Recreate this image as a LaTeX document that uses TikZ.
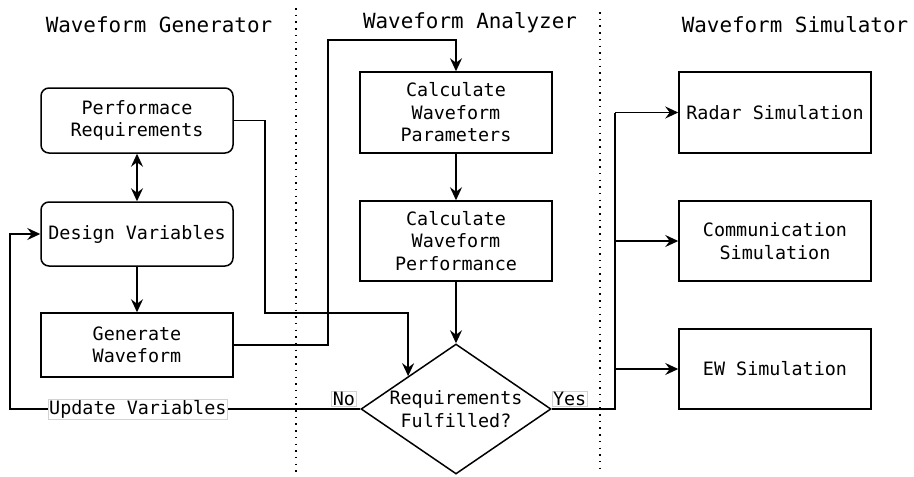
\documentclass[tikz,border=0pt]{standalone}
\usepackage{fontspec}
\setmainfont{DejaVu Sans Mono}
\usetikzlibrary{arrows.meta,shapes.geometric,calc}
\newcommand\mybx{\fontsize{18.4}{22.5}\selectfont}
\newcommand\myttl{\fontsize{20.9}{25}\selectfont}
\begin{document}
\begin{tikzpicture}[x=1pt,y=-1pt,
  base/.style={draw, line width=1.5pt, minimum width=192pt, align=center, inner sep=0pt, font=\mybx},
  rbox/.style={base, rounded corners=8pt, minimum height=65pt},
  sbox/.style={base, minimum height=81pt},
  gbox/.style={base, minimum height=64pt},
  decbox/.style={diamond, draw, line width=1.5pt, aspect=1.46, inner sep=0pt, minimum width=190pt, minimum height=130pt, align=center, font=\mybx},
  tip/.tip={Stealth[length=13pt,width=12pt,inset=4.5pt]},
  arr/.style={line width=1.5pt, -tip},
  dbl/.style={line width=1.5pt, tip-tip},
  lnk/.style={line width=1.5pt},
  lbl/.style={draw=gray!35, line width=0.6pt, fill=white, inner sep=1pt, font=\mybx},
  ttl/.style={font=\myttl, anchor=base},
  sep/.style={line width=1.5pt, dash pattern=on 1.5pt off 5.2pt}
]
\useasboundingbox (0,0) rectangle (914,477);

% titles
\node[ttl] (t1) at (159,32) {Waveform Generator};
\node[ttl] (t2) at (470,28) {Waveform Analyzer};
\node[ttl] (t3) at (795,32) {Waveform Simulator};

% separators
\draw[sep] (296,8) -- (296,472);
\draw[sep] (600,12) -- (600,472);

% nodes
\node[rbox] (pr) at (137,120.5) {Performace\\Requirements};
\node[rbox, minimum height=64pt] (dv) at (137,234) {Design Variables};
\node[gbox] (gw) at (137,345) {Generate\\Waveform};
\node[sbox] (cp) at (456,112.5) {Calculate\\Waveform\\Parameters};
\node[sbox, minimum height=80pt] (cf) at (456,241) {Calculate\\Waveform\\Performance};
\node[decbox] (dec) at (456,409) {Requirements\\Fulfilled?};
\node[sbox] (rs) at (775,112.5) {Radar Simulation};
\node[sbox, minimum height=80pt] (cs) at (775,241) {Communication\\Simulation};
\node[sbox, minimum height=80pt] (ew) at (775,369) {EW Simulation};

% helper coordinates
\coordinate (w1) at (328,40);
\coordinate (p1) at (265,313);
\coordinate (dm) at ($(dec.west)!0.5!(dec.north)$);
\coordinate (u1) at (10,409);
\coordinate (y1) at (615,112.5);
\coordinate (y2) at (615,241);
\coordinate (y3) at (615,369);

% connectors
\draw[dbl] (pr.south) -- (dv.north);
\draw[arr] (dv.south) -- (gw.north);
\draw[arr] (gw.east) -| (w1) -| (cp.north);
\draw[arr] (pr.east) -| (p1) -| (dm);
\draw[arr] (cp.south) -- (cf.north);
\draw[arr] (cf.south) -- (dec.north);
\draw[arr] (dec.west) node[lbl, anchor=south east, xshift=-4pt, yshift=2pt] (no) {No}
  -- node[lbl, pos=0.635] (uv) {Update Variables} (u1) |- (dv.west);
\draw[lnk] (dec.east) node[lbl, anchor=south west, yshift=2pt] (yes) {Yes} -| (y1);
\draw[arr] (y1) -- (rs.west);
\draw[arr] (y2) -- (cs.west);
\draw[arr] (y3) -- (ew.west);
\end{tikzpicture}
\end{document}
